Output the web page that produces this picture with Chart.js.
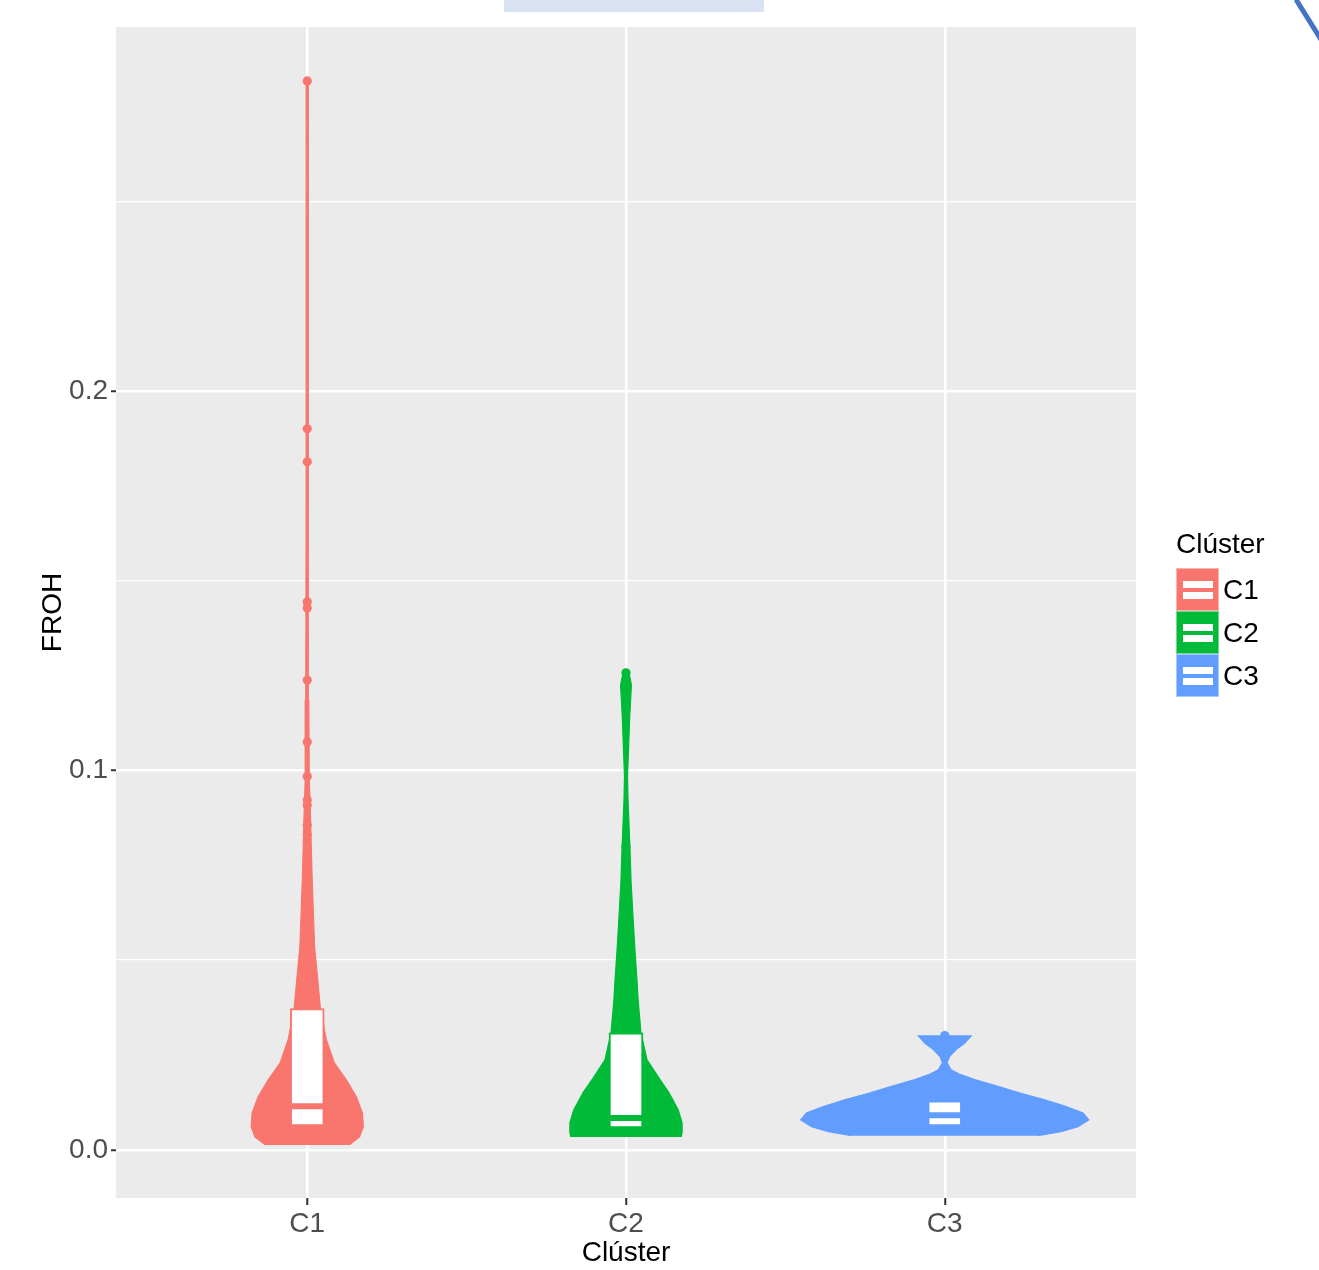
<!DOCTYPE html>
<html>
<head>
<meta charset="utf-8">
<title>FROH por clúster</title>
<script src="https://cdn.jsdelivr.net/npm/chart.js@4.4.1/dist/chart.umd.min.js"></script>
<style>
  html, body { margin: 0; padding: 0; background: #fff; overflow: hidden; }
  #wrap { position: absolute; left: 0; top: 0; width: 1319px; height: 1270px; }
  .deco-rect { position: absolute; left: 504px; top: 0; width: 260px; height: 12px; background: #dae3f3; }
  .deco-line { position: absolute; left: 1296px; top: -3px; width: 70px; height: 5px; background: #4472c4;
               transform-origin: 0 50%; transform: rotate(58deg); }
  .legend { position: absolute; left: 1176px; top: 530px; font-family: 'Liberation Sans', Arial, sans-serif; color: #000; }
  .legend-title { font-size: 28px; line-height: 28px; height: 38px; }
  .legend-item { display: flex; align-items: center; height: 43px; }
  .legend-key { position: relative; width: 43px; height: 43px; box-sizing: border-box; border: 1px solid rgba(255,255,255,0.45); }
  .legend-key i { position: absolute; left: 6px; width: 30px; height: 7px; background: #fff; }
  .legend-label { margin-left: 4px; font-size: 28px; line-height: 43px; }
</style>
</head>
<body>
<div class="deco-rect"></div>
<div class="deco-line"></div>
<div id="wrap"><canvas id="violinChart"></canvas></div>
<div class="legend" id="legend"></div>
<script>
// ── Data ──────────────────────────────────────────
const CATEGORIES = ['C1', 'C2', 'C3'];
const COLORS = ['#F8766D', '#00BA38', '#619CFF'];

// violin outlines: FROH value and half width (category units), bottom to top
const C1_Y = [0.0013, 0.0034, 0.0061, 0.0097, 0.0140, 0.0184, 0.0229, 0.0290, 0.0374, 0.0448,
              0.0535, 0.0711, 0.0888, 0.0975, 0.1186, 0.1710, 0.2240, 0.2817];
const C1_W = [0.132, 0.164, 0.176, 0.173, 0.154, 0.123, 0.085, 0.060, 0.041, 0.033,
              0.023, 0.0155, 0.0098, 0.0065, 0.0047, 0.0038, 0.0030, 0.0030];
const C2_Y = [0.0034, 0.0045, 0.0071, 0.0105, 0.0150, 0.0192, 0.0237, 0.0308, 0.0395, 0.0440,
              0.0527, 0.0614, 0.0704, 0.0791, 0.0922, 0.0983, 0.1054, 0.1141, 0.1225, 0.1255];
const C2_W = [0.173, 0.176, 0.176, 0.164, 0.135, 0.101, 0.066, 0.047, 0.038, 0.035,
              0.028, 0.022, 0.016, 0.0126, 0.0063, 0.0047, 0.0079, 0.0116, 0.0170, 0.0100];
const C3_Y = [0.0037, 0.0048, 0.0061, 0.0079, 0.0097, 0.0114, 0.0132, 0.0149, 0.0167, 0.0185,
              0.0198, 0.0211, 0.0229, 0.0246, 0.0264, 0.0281, 0.0300];
const C3_W = [0.292, 0.365, 0.418, 0.452, 0.434, 0.381, 0.314, 0.239, 0.167, 0.094,
              0.050, 0.020, 0.0072, 0.0148, 0.0355, 0.062, 0.083];

const BOX_Q1 = [0.0063, 0.0058, 0.0063];
const BOX_MEDIAN = [0.0115, 0.0084, 0.0091];
const BOX_Q3 = [0.0372, 0.0308, 0.0129];

const OUTLIERS_C1 = [0.2817, 0.1900, 0.1813, 0.1444, 0.1428, 0.1238, 0.1075, 0.0984,
                     0.0922, 0.0909, 0.0856, 0.0830];
const OUTLIERS_C2 = [0.1257, 0.0798];
const OUTLIERS_C3 = [0.0301];

const Y_TICKS = [0, 0.05, 0.1, 0.15, 0.2, 0.25];
const Y_LABELS = ['0.0', '', '0.1', '', '0.2', ''];
const Y_RANGE = [-0.0127, 0.2959];
const X_RANGE = [0.4, 3.6];

const VIOLIN_Y = [C1_Y, C2_Y, C3_Y];
const VIOLIN_W = [C1_W, C2_W, C3_W];
const OUTLIERS = [OUTLIERS_C1, OUTLIERS_C2, OUTLIERS_C3];

const FONT = "'Liberation Sans', Arial, sans-serif";
const BOX_HALF = 0.0535;

// closed outline: up the right side, back down the left side
function violinPoints(center, ys, ws) {
  const right = ys.map((y, i) => ({ x: center + ws[i], y }));
  const left = ys.map((y, i) => ({ x: center - ws[i], y })).reverse();
  return right.concat(left);
}

const datasets = [];
CATEGORIES.forEach((cat, i) => {
  const c = i + 1;
  datasets.push({
    type: 'scatter', label: cat,
    data: violinPoints(c, VIOLIN_Y[i], VIOLIN_W[i]),
    showLine: true, fill: 'shape', tension: 0,
    backgroundColor: COLORS[i], borderColor: COLORS[i], borderWidth: 1.2,
    pointRadius: 0, order: 4
  });
  datasets.push({
    type: 'bar', label: cat + ' box',
    data: [{ x: c, y: [BOX_Q1[i], BOX_Q3[i]] }],
    backgroundColor: '#ffffff', borderColor: COLORS[i], borderWidth: 2,
    borderSkipped: false, grouped: false, barThickness: 34, maxBarThickness: 34,
    order: 3
  });
  datasets.push({
    type: 'scatter', label: cat + ' median',
    data: [{ x: c - BOX_HALF, y: BOX_MEDIAN[i] }, { x: c + BOX_HALF, y: BOX_MEDIAN[i] }],
    showLine: true, borderColor: COLORS[i], borderWidth: 6, pointRadius: 0, order: 2
  });
  datasets.push({
    type: 'scatter', label: cat + ' outliers',
    data: OUTLIERS[i].map(v => ({ x: c, y: v })),
    pointRadius: 4.6, pointBackgroundColor: COLORS[i], pointBorderWidth: 0, order: 1
  });
});

// ── Grey panel behind the grid ────────────────────
const panelBg = {
  id: 'panelBg',
  beforeDraw(chart) {
    const { ctx, chartArea: a } = chart;
    ctx.save();
    ctx.fillStyle = '#ebebeb';
    ctx.fillRect(a.left, a.top, a.width, a.height);
    ctx.restore();
  }
};

const isMajor = ctx => !!Y_LABELS[ctx.index];

new Chart(document.getElementById('violinChart'), {
  type: 'scatter',
  data: { datasets },
  options: {
    responsive: true,
    maintainAspectRatio: false,
    animation: false,
    layout: { padding: { left: 0, top: 27, right: 183, bottom: 0 } },
    plugins: { legend: { display: false }, tooltip: { enabled: false } },
    scales: {
      x: {
        type: 'linear', min: X_RANGE[0], max: X_RANGE[1], offset: false,
        afterBuildTicks: s => { s.ticks = CATEGORIES.map((_, i) => ({ value: i + 1 })); },
        afterFit: s => { s.height = 72; },
        ticks: {
          callback: v => CATEGORIES[v - 1],
          color: '#4d4d4d', font: { size: 28, family: FONT },
          padding: 2, maxRotation: 0, autoSkip: false
        },
        grid: { color: '#ffffff', lineWidth: 2.5, tickLength: 7, tickColor: '#333333', tickWidth: 2, offset: false },
        border: { display: false },
        title: { display: true, text: 'Clúster', color: '#000', font: { size: 28, family: FONT }, padding: { top: 0, bottom: 0 } }
      },
      y: {
        type: 'linear', min: Y_RANGE[0], max: Y_RANGE[1],
        afterBuildTicks: s => { s.ticks = Y_TICKS.map(v => ({ value: v })); },
        afterFit: s => { s.width = 116; },
        ticks: {
          callback: (v, i) => Y_LABELS[i],
          color: '#4d4d4d', font: { size: 28, family: FONT }, padding: 3, autoSkip: false
        },
        grid: {
          color: '#ffffff',
          lineWidth: ctx => isMajor(ctx) ? 2.5 : 1.2,
          tickLength: 5,
          tickColor: ctx => isMajor(ctx) ? '#333333' : 'rgba(0,0,0,0)',
          tickWidth: 2
        },
        border: { display: false },
        title: { display: true, text: 'FROH', color: '#000', font: { size: 28, family: FONT }, padding: { top: 36, bottom: 0 } }
      }
    }
  },
  plugins: [panelBg]
});

// ── Legend ────────────────────────────────────────
const legend = document.getElementById('legend');
legend.innerHTML = '<div class="legend-title">Clúster</div>' + CATEGORIES.map((cat, i) =>
  `<div class="legend-item"><div class="legend-key" style="background:${COLORS[i]}">` +
  `<i style="top:12px"></i><i style="top:23px"></i></div>` +
  `<span class="legend-label">${cat}</span></div>`).join('');
</script>
</body>
</html>
